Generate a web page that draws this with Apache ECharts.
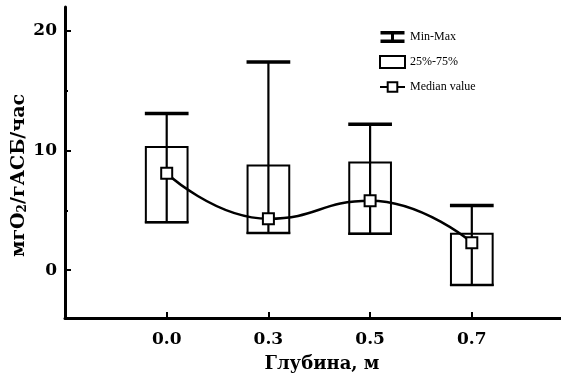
<!DOCTYPE html>
<html>
<head>
<meta charset="utf-8">
<script src="https://cdn.jsdelivr.net/npm/echarts@6/dist/echarts.min.js"></script>
<style>html,body{margin:0;padding:0;background:#fff;}#c{width:561px;height:381px;}</style>
</head>
<body>
<div id="c"></div>
<script>
var categories = ['0.0', '0.3', '0.5', '0.7'];
var minValues = [4.0, 3.1, 3.05, -1.25];
var q1Values = [4.0, 3.1, 3.05, -1.25];
var medianValues = [8.1, 4.3, 5.8, 2.3];
var q3Values = [10.3, 8.75, 9.0, 3.05];
var maxValues = [13.1, 17.4, 12.2, 5.4];
var yLabelValues = [0, 10, 20];
var yMinorValues = [5, 15];

var FONT = '"DejaVu Serif", "Liberation Serif", serif';
var LFONT = '"Liberation Serif", serif';

var whiskerData = categories.map(function (c, i) { return [i, minValues[i], maxValues[i]]; });
var boxData = categories.map(function (c, i) { return [i, q1Values[i], q3Values[i]]; });
var medianData = categories.map(function (c, i) { return [i, medianValues[i]]; });
var catIdx = categories.map(function (c, i) { return i; });

var chart = echarts.init(document.getElementById('c'));
chart.setOption({
  backgroundColor: '#fff',
  animation: false,
  grid: { left: 65, right: 0, top: 7, bottom: 63, containLabel: false, outerBoundsMode: 'none' },
  legend: {
    orient: 'vertical',
    left: 374,
    top: 26,
    itemWidth: 25,
    itemHeight: 12,
    itemGap: 12,
    textStyle: { fontFamily: LFONT, fontSize: 12, color: '#000' },
    data: [
      { name: 'Min-Max', icon: 'path://M0,0H24V3.5H13.5V8.5H24V12H0V8.5H10.5V3.5H0Z', itemStyle: { color: '#000' } },
      { name: '25%-75%', icon: 'rect', itemStyle: { color: '#fff', borderColor: '#000', borderWidth: 2 } },
      { name: 'Median value' }
    ]
  },
  xAxis: {
    type: 'value',
    min: -1,
    max: 3.877,
    name: 'Глубина, м',
    nameLocation: 'middle',
    nameGap: 37,
    nameMoveOverlap: false,
    nameTextStyle: { fontFamily: FONT, fontWeight: 'bold', fontSize: 18, color: '#000', padding: [0, 0, 0, 18] },
    splitLine: { show: false },
    axisLine: { onZero: false, lineStyle: { color: '#000', width: 3 } },
    axisTick: { customValues: catIdx, inside: true, length: 6, lineStyle: { color: '#000', width: 2 } },
    axisLabel: {
      customValues: catIdx,
      margin: 13,
      fontFamily: FONT, fontWeight: 'bold', fontSize: 17, color: '#000',
      formatter: function (v) { return categories[Math.round(v)]; }
    }
  },
  yAxis: [{
    type: 'value',
    min: -4,
    max: 22,
    name: 'мгО{sub|2}/гАСБ/час',
    nameLocation: 'middle',
    nameGap: 36,
    nameRotate: 90,
    nameMoveOverlap: false,
    nameTextStyle: {
      fontFamily: FONT, fontWeight: 'bold', fontSize: 19, color: '#000',
      padding: [0, 26, 0, 0],
      rich: { sub: { fontFamily: FONT, fontWeight: 'bold', fontSize: 12, color: '#000', padding: [8, 0, 0, 0] } }
    },
    splitLine: { show: false },
    axisLine: { onZero: false, lineStyle: { color: '#000', width: 3 } },
    axisTick: { customValues: yLabelValues, inside: true, length: 6, lineStyle: { color: '#000', width: 2 } },
    axisLabel: { customValues: yLabelValues, margin: 8, fontFamily: FONT, fontWeight: 'bold', fontSize: 17, color: '#000' }
  }, {
    type: 'value',
    min: -4,
    max: 22,
    position: 'left',
    splitLine: { show: false },
    axisLine: { show: false, onZero: false },
    axisTick: { customValues: yMinorValues, inside: true, length: 3, lineStyle: { color: '#000', width: 2 } },
    axisLabel: { show: false }
  }],
  series: [{
    name: 'Min-Max',
    type: 'custom',
    itemStyle: { color: '#000' },
    encode: { x: 0, y: [1, 2] },
    data: whiskerData,
    z: 2,
    renderItem: function (params, api) {
      var x = api.value(0);
      var pLo = api.coord([x, api.value(1)]);
      var pHi = api.coord([x, api.value(2)]);
      var half = api.size([0.43, 0])[0] / 2;
      return {
        type: 'group',
        children: [
          { type: 'line', shape: { x1: pLo[0], y1: pLo[1], x2: pHi[0], y2: pHi[1] }, style: { stroke: '#000', lineWidth: 2.2 } },
          { type: 'line', shape: { x1: pHi[0] - half, y1: pHi[1], x2: pHi[0] + half, y2: pHi[1] }, style: { stroke: '#000', lineWidth: 3.5 } },
          { type: 'line', shape: { x1: pLo[0] - half, y1: pLo[1], x2: pLo[0] + half, y2: pLo[1] }, style: { stroke: '#000', lineWidth: 2.5 } }
        ]
      };
    }
  }, {
    name: '25%-75%',
    type: 'custom',
    itemStyle: { color: '#000' },
    encode: { x: 0, y: [1, 2] },
    data: boxData,
    z: 3,
    renderItem: function (params, api) {
      var x = api.value(0);
      var pLo = api.coord([x, api.value(1)]);
      var pHi = api.coord([x, api.value(2)]);
      var w = api.size([0.41, 0])[0];
      return {
        type: 'rect',
        shape: { x: pLo[0] - w / 2, y: pHi[1], width: w, height: pLo[1] - pHi[1] },
        style: { fill: 'none', stroke: '#000', lineWidth: 2 }
      };
    }
  }, {
    name: 'Median value',
    type: 'line',
    smooth: 0.5,
    data: medianData,
    z: 5,
    symbol: 'rect',
    symbolSize: 11,
    lineStyle: { color: '#000', width: 2.5 },
    itemStyle: { color: '#fff', borderColor: '#000', borderWidth: 2 }
  }]
});
</script>
</body>
</html>
